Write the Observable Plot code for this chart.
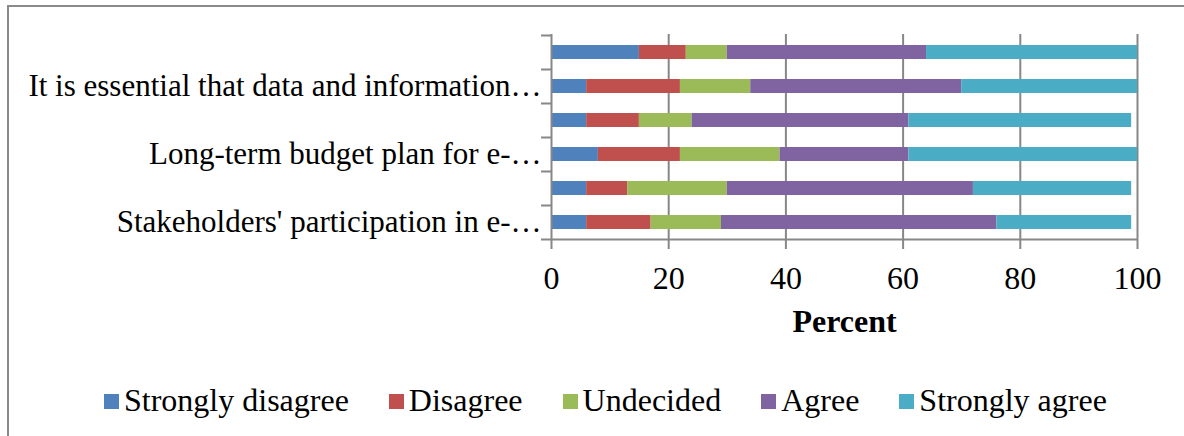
<!DOCTYPE html>
<html>
<head>
<meta charset="utf-8">
<script src="https://cdn.jsdelivr.net/npm/d3@7"></script>
<script src="https://cdn.jsdelivr.net/npm/@observablehq/plot@0.6"></script>
<style>
  html, body { margin: 0; padding: 0; background: #fff; }
  body { width: 1184px; height: 436px; position: relative; overflow: hidden;
         font-family: "Liberation Serif", "Times New Roman", serif; }
  #box { position: absolute; left: 7px; top: 5px; width: 1200px; height: 460px;
         border-left: 2px solid #8a8a8a; border-top: 2px solid #8a8a8a; box-sizing: border-box; }
  #chart { position: absolute; left: 0; top: 0; }
  #legend { position: absolute; left: 104px; top: 382px; display: flex; align-items: center;
            gap: 40px; font-size: 32px; color: #000; white-space: nowrap; }
  #legend .item { display: flex; align-items: center; }
  #legend .sw { width: 15px; height: 15px; margin-right: 5px; position: relative; top: 1px; }
</style>
</head>
<body>
<div id="box"></div>
<div id="chart"></div>
<div id="legend"></div>
<script>
// Survey items, listed top to bottom (only every other label fits on the axis)
const items = ["item6", "item5", "item4", "item3", "item2", "item1"];
const itemLabels = [
  "",
  "It is essential that data and information…",
  "",
  "Long-term budget plan for e-…",
  "",
  "Stakeholders' participation in e-…"
];

// Response categories
const responses = ["Strongly disagree", "Disagree", "Undecided", "Agree", "Strongly agree"];
const responseColors = ["#4F81BD", "#C0504D", "#9BBB59", "#8064A2", "#4BACC6"];

// Percent of respondents per item, one array per response category
const stronglyDisagree = [15, 6, 6, 8, 6, 6];
const disagree         = [8, 16, 9, 14, 7, 11];
const undecided        = [7, 12, 9, 17, 17, 12];
const agree            = [34, 36, 37, 22, 42, 47];
const stronglyAgree    = [36, 30, 38, 39, 27, 23];

const xTicks = [0, 20, 40, 60, 80, 100];

const seriesValues = [stronglyDisagree, disagree, undecided, agree, stronglyAgree];
const rows = [];
responses.forEach((r, si) => {
  items.forEach((it, ii) => {
    rows.push({item: it, response: r, value: seriesValues[si][ii]});
  });
});

const labelOf = new Map(items.map((d, i) => [d, itemLabels[i]]));
const font = `"Liberation Serif", "Times New Roman", serif`;
const gray = "#878787";

const chart = Plot.plot({
  width: 1184,
  height: 360,
  marginTop: 34,
  marginBottom: 120,
  marginLeft: 551,
  marginRight: 47,
  style: {fontFamily: font, fontSize: "31px", color: "#000", background: "transparent", overflow: "visible"},
  x: {domain: [0, 100], ticks: xTicks, label: null},
  y: {domain: items, paddingInner: 0.6, paddingOuter: 0.3, label: null},
  color: {domain: responses, range: responseColors},
  marks: [
    // vertical gridlines
    Plot.ruleX(xTicks.slice(1), {stroke: gray, strokeWidth: 2}),
    // stacked bars
    Plot.barX(rows, Plot.stackX({x: "value", y: "item", fill: "response", order: responses})),
    // vertical axis line and category boundary ticks
    Plot.ruleX([0], {stroke: gray, strokeWidth: 2}),
    Plot.ruleY(items, {y: d => d, x1: -1.7, x2: 0, dy: -17, stroke: gray, strokeWidth: 2, clip: false}),
    Plot.ruleY(items.slice(-1), {y: d => d, x1: -1.7, x2: 0, dy: 17, stroke: gray, strokeWidth: 2, clip: false}),
    // horizontal axis line
    Plot.ruleY(items.slice(-1), {y: d => d, x1: 0, x2: 100, dy: 17, stroke: gray, strokeWidth: 2}),
    Plot.axisX({ticks: xTicks, tickSize: 9, tickPadding: 17, stroke: gray, strokeWidth: 2,
                strokeOpacity: 1, fontSize: 32, fill: "#000", label: null}),
    Plot.axisY({tickSize: 0, tickPadding: 10, tickFormat: d => labelOf.get(d), fontSize: 31, fill: "#000", label: null}),
    // axis title
    Plot.text(["Percent"], {frameAnchor: "bottom", dy: 91, fontSize: 32, fontWeight: "bold", fill: "#000"})
  ]
});
document.getElementById("chart").appendChild(chart);

// legend
const legend = document.getElementById("legend");
responses.forEach((r, i) => {
  const item = document.createElement("div");
  item.className = "item";
  const sw = document.createElement("span");
  sw.className = "sw";
  sw.style.background = responseColors[i];
  const t = document.createElement("span");
  t.textContent = r;
  item.appendChild(sw);
  item.appendChild(t);
  legend.appendChild(item);
});
</script>
</body>
</html>
